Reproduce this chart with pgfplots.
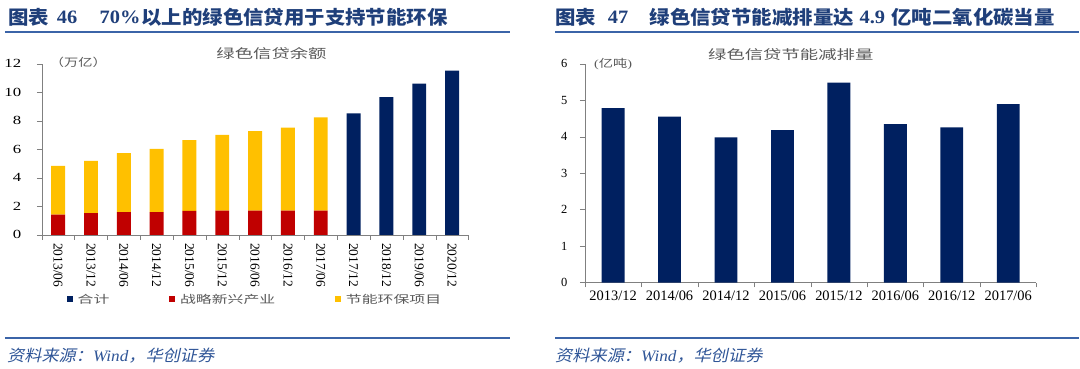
\documentclass[border=0pt]{standalone}
\usepackage{fontspec}
\setmainfont{Liberation Serif}
\newfontfamily\cjk{Noto Sans CJK SC}
\newfontfamily\cjksl[FakeSlant=0.2]{Noto Sans CJK SC}
\usepackage{graphicx}
\usepackage{pgfplots}
\pgfplotsset{compat=1.18}
\definecolor{navy}{HTML}{002060}
\definecolor{dred}{HTML}{C00000}
\definecolor{gold}{HTML}{FFC000}
\definecolor{ttl}{HTML}{1F3F7A}
\definecolor{rulec}{HTML}{3B64A8}
\definecolor{txt}{HTML}{595959}
\definecolor{src}{HTML}{2F5597}
\definecolor{axgray}{HTML}{808080}
\newcommand{\ttlfont}{\fontsize{19}{21}\selectfont\bfseries}
\begin{document}
\begin{tikzpicture}[x=1pt,y=1pt]
\path (0pt,0pt) rectangle (1080pt,370pt);
% ---- titles ----
\begin{scope}[every node/.style={anchor=west,inner sep=0pt,text=ttl,xscale=1.08}]
\node at (3pt,353pt) {\ttlfont\cjk 图表};
\node at (52pt,353pt) {\ttlfont 46};
\node at (95pt,353pt) {\ttlfont 70\%};
\node at (137pt,353pt) {\ttlfont\cjk 以上的绿色信贷用于支持节能环保};
\node at (553pt,353pt) {\ttlfont\cjk 图表};
\node at (606pt,353pt) {\ttlfont 47};
\node at (648pt,353pt) {\ttlfont\cjk 绿色信贷节能减排量达};
\node at (859pt,353pt) {\ttlfont 4.9};
\node at (891pt,353pt) {\ttlfont\cjk 亿吨二氧化碳当量};
\end{scope}
\draw[rulec,line width=1.5pt] (0pt,338pt) -- (508pt,338pt);
\draw[rulec,line width=1.5pt] (553pt,338pt) -- (1080pt,338pt);
\draw[rulec,line width=1.5pt] (0pt,30pt) -- (508pt,30pt);
\draw[rulec,line width=1.5pt] (553pt,30pt) -- (1080pt,30pt);
\node[anchor=west,inner sep=0pt,text=src,xscale=1.08] at (2pt,12pt) {\fontsize{16}{18}\selectfont\cjksl 资料来源：{\rmfamily\itshape Wind}，华创证券};
\node[anchor=west,inner sep=0pt,text=src,xscale=1.08] at (553pt,12pt) {\fontsize{16}{18}\selectfont\cjksl 资料来源：{\rmfamily\itshape Wind}，华创证券};
% chart titles and units
\node[inner sep=0pt,text=txt,xscale=1.42] at (268pt,316pt) {\fontsize{13}{15}\selectfont\cjk 绿色信贷余额};
\node[inner sep=0pt,text=txt,xscale=1.42] at (790pt,315.5pt) {\fontsize{13}{15}\selectfont\cjk 绿色信贷节能减排量};
\node[anchor=west,inner sep=0pt,text=txt,xscale=1.3] at (45pt,307pt) {\fontsize{11}{13}\selectfont\cjk （万亿）};
\node[anchor=west,inner sep=0pt,text=txt,xscale=1.3] at (592pt,305.5pt) {\fontsize{11}{13}\selectfont{\rmfamily(}\cjk 亿吨{\rmfamily)}};
% ---- left chart ----
\begin{axis}[
  at={(37pt,134pt)}, anchor=south west, scale only axis,
  width=429pt, height=172pt,
  xmin=-0.5, xmax=12.5, ymin=0, ymax=12,
  ybar stacked, bar width=14pt,
  axis x line*=bottom, axis y line*=left,
  axis line style={draw=axgray,-},
  tick style={draw=axgray},
  tick align=outside, major tick length=5pt, minor tick length=5pt,
  ytick={0,2,...,12},
  xtick={0,...,12},
  major x tick style={draw=none},
  minor xtick={-0.5,0.5,...,12.5},
  xticklabels={2013/06,2013/12,2014/06,2014/12,2015/06,2015/12,2016/06,2016/12,2017/06,2017/12,2018/12,2019/06,2020/12},
  xticklabel style={rotate=-90, anchor=west, font=\fontsize{13.5}{14}\selectfont},
  yticklabel style={font=\fontsize{12.5}{13}\selectfont, xscale=1.35, xshift=-8pt},
  /pgf/number format/assume math mode=true,
  legend columns=3,
  legend style={draw=none, fill=none, at={(0.0583,-0.378)}, anchor=west, inner sep=0pt,
    nodes={inner sep=0pt, text=txt},
    /tikz/every odd column/.append style={column sep=5pt},
    /tikz/every even column/.append style={column sep=60pt}},
  legend cell align=left,
]
\addlegendimage{fill=navy, draw=none, legend image code/.code={\fill (0pt,-3pt) rectangle (6pt,3pt);}}
\addlegendentry{\scalebox{1.45}[1]{\fontsize{11}{13}\selectfont\cjk 合计}}
\addlegendimage{fill=dred, draw=none, legend image code/.code={\fill (0pt,-3pt) rectangle (6pt,3pt);}}
\addlegendentry{\scalebox{1.45}[1]{\fontsize{11}{13}\selectfont\cjk 战略新兴产业}}
\addlegendimage{fill=gold, draw=none, legend image code/.code={\fill (0pt,-3pt) rectangle (6pt,3pt);}}
\addlegendentry{\scalebox{1.45}[1]{\fontsize{11}{13}\selectfont\cjk 节能环保项目}}
\addplot[fill=dred, draw=none, forget plot] coordinates {(0,1.42) (1,1.51) (2,1.58) (3,1.58) (4,1.67) (5,1.70) (6,1.70) (7,1.70) (8,1.70) (9,0) (10,0) (11,0) (12,0)};
\addplot[fill=gold, draw=none, forget plot] coordinates {(0,3.42) (1,3.68) (2,4.14) (3,4.44) (4,4.96) (5,5.30) (6,5.56) (7,5.81) (8,6.53) (9,0) (10,0) (11,0) (12,0)};
\addplot[fill=navy, draw=none, forget plot] coordinates {(0,0) (1,0) (2,0) (3,0) (4,0) (5,0) (6,0) (7,0) (8,0) (9,8.51) (10,9.65) (11,10.60) (12,11.51)};
\end{axis}
% ---- right chart ----
\begin{axis}[
  at={(583pt,86pt)}, anchor=south west, scale only axis,
  width=454pt, height=220pt,
  xmin=-0.5, xmax=7.5, ymin=0, ymax=6,
  ybar, bar width=23pt,
  axis x line*=bottom, axis y line*=left,
  axis line style={draw=axgray,-},
  tick style={draw=axgray},
  tick align=outside, major tick length=5pt, minor tick length=5pt,
  ytick={0,1,...,6},
  xtick={0,...,7},
  major x tick style={draw=none},
  minor xtick={-0.5,0.5,...,7.5},
  xticklabels={2013/12,2014/06,2014/12,2015/06,2015/12,2016/06,2016/12,2017/06},
  xticklabel style={font=\fontsize{14.5}{15}\selectfont},
  yticklabel style={font=\fontsize{12.5}{13}\selectfont, xshift=-9pt},
  /pgf/number format/assume math mode=true,
]
\addplot[fill=navy, draw=none] coordinates {(0,4.78) (1,4.55) (2,3.98) (3,4.18) (4,5.48) (5,4.34) (6,4.25) (7,4.89)};
\end{axis}
\end{tikzpicture}
\end{document}
